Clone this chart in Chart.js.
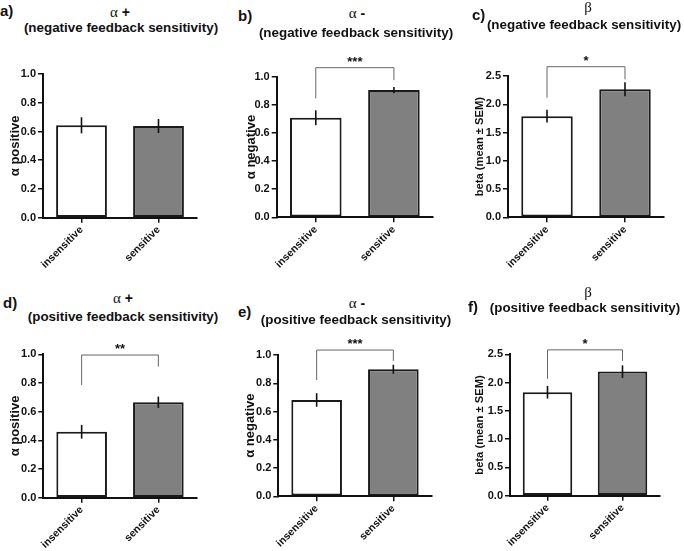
<!DOCTYPE html>
<html lang="en">
<head>
  <meta charset="UTF-8">
  <title>Learning rates and beta by feedback sensitivity</title>
  <script src="https://cdn.jsdelivr.net/npm/chart.js"></script>
  <style>
    body { margin: 0; background: #fff; font-family: "Liberation Sans", Arial, sans-serif; }
    #fig { position: relative; width: 684px; height: 551px; overflow: hidden; }
    canvas { position: absolute; z-index: 1; }
    .lbl { position: absolute; z-index: 2; font-weight: bold; white-space: nowrap; color: #111; line-height: 16px; }
    .letter { font-size: 15px; }
    .t1 { font-size: 14px; transform: translateX(-50%); }
    .t2 { font-size: 13.4px; transform: translateX(-50%); }
    .greek { font-family: "Liberation Serif", serif; font-weight: normal; font-size: 15px; }
  </style>
</head>
<body>
  <div id="fig">
    <!-- panel headings -->
    <div class="lbl letter" style="left:0px;top:3px">a)</div>
    <div class="lbl t1" style="left:120px;top:4px"><span class="greek">α</span> +</div>
    <div class="lbl t2" style="left:121px;top:20px">(negative feedback sensitivity)</div>

    <div class="lbl letter" style="left:238px;top:8px">b)</div>
    <div class="lbl t1" style="left:357px;top:5px"><span class="greek">α</span> -</div>
    <div class="lbl t2" style="left:356px;top:25px">(negative feedback sensitivity)</div>

    <div class="lbl letter" style="left:472px;top:7px">c)</div>
    <div class="lbl t1" style="left:588px;top:-1px"><span class="greek">β</span></div>
    <div class="lbl t2" style="left:584px;top:17px">(negative feedback sensitivity)</div>

    <div class="lbl letter" style="left:3px;top:295px">d)</div>
    <div class="lbl t1" style="left:123px;top:290px"><span class="greek">α</span> +</div>
    <div class="lbl t2" style="left:123px;top:309px">(positive feedback sensitivity)</div>

    <div class="lbl letter" style="left:238px;top:304px">e)</div>
    <div class="lbl t1" style="left:357px;top:295px"><span class="greek">α</span> -</div>
    <div class="lbl t2" style="left:356px;top:312px">(positive feedback sensitivity)</div>

    <div class="lbl letter" style="left:468px;top:299px">f)</div>
    <div class="lbl t1" style="left:588px;top:284px"><span class="greek">β</span></div>
    <div class="lbl t2" style="left:585px;top:300px">(positive feedback sensitivity)</div>
  </div>

  <script>
    // groups on the x axis
    const groups = ['insensitive', 'sensitive'];

    // a) alpha+ , negative feedback sensitivity
    const aMean = [0.643, 0.638];
    const aSem = [0.056, 0.049];
    // b) alpha- , negative feedback sensitivity
    const bMean = [0.708, 0.905];
    const bSem = [0.053, 0.022];
    const bBracket = [0.846, 1.064, 0.976]; // left leg end, top, right leg end
    // c) beta , negative feedback sensitivity
    const cMean = [1.79, 2.265];
    const cSem = [0.112, 0.125];
    const cBracket = [2.116, 2.665, 2.44];
    // d) alpha+ , positive feedback sensitivity
    const dMean = [0.46, 0.665];
    const dSem = [0.048, 0.04];
    const dBracket = [0.786, 0.995, 0.914];
    // e) alpha- , positive feedback sensitivity
    const eMean = [0.682, 0.899];
    const eSem = [0.048, 0.032];
    const eBracket = [0.823, 1.035, 0.958];
    // f) beta , positive feedback sensitivity
    const fMean = [1.829, 2.194];
    const fSem = [0.112, 0.111];
    const fBracket = [2.065, 2.578, 2.383];

    // y axis ranges
    const alphaMax = 1.0, alphaStep = 0.2;
    const betaMax = 2.5, betaStep = 0.5;

    const FONT = '"Liberation Sans", Arial, sans-serif';
    const INK = '#111';

    // x/top/w/h = canvas box, L/T/R/B = plot area, tx = y title centre
    const panels = [
      { mean: aMean, sem: aSem, bracket: null, stars: '', yTitle: 'α positive', tSize: 13, max: alphaMax, step: alphaStep,
        x: 0, top: 40, w: 225, h: 235, L: 43, T: 74, R: 197, B: 217.7, tx: 15 },
      { mean: bMean, sem: bSem, bracket: bBracket, stars: '***', yTitle: 'α negative', tSize: 13, max: alphaMax, step: alphaStep,
        x: 228, top: 40, w: 226, h: 235, L: 276.7, T: 76.7, R: 433, B: 217.3, tx: 251.7 },
      { mean: cMean, sem: cSem, bracket: cBracket, stars: '*', yTitle: 'beta (mean ± SEM)', tSize: 11.2, max: betaMax, step: betaStep,
        x: 458, top: 40, w: 226, h: 235, L: 508, T: 76, R: 664, B: 217.3, tx: 480 },
      { mean: dMean, sem: dSem, bracket: dBracket, stars: '**', yTitle: 'α positive', tSize: 13, max: alphaMax, step: alphaStep,
        x: 0, top: 325, w: 225, h: 226, L: 43.3, T: 354.3, R: 196.7, B: 497.7, tx: 15 },
      { mean: eMean, sem: eSem, bracket: eBracket, stars: '***', yTitle: 'α negative', tSize: 13, max: alphaMax, step: alphaStep,
        x: 228, top: 325, w: 226, h: 226, L: 278.3, T: 355, R: 431.7, B: 496.3, tx: 250 },
      { mean: fMean, sem: fSem, bracket: fBracket, stars: '*', yTitle: 'beta (mean ± SEM)', tSize: 11.2, max: betaMax, step: betaStep,
        x: 458, top: 325, w: 226, h: 226, L: 510, T: 354.3, R: 660, B: 495.7, tx: 480 }
    ];

    // error bars (SEM) drawn over the bars
    const errorBars = {
      id: 'errorBars',
      afterDatasetsDraw(chart, args, opts) {
        const { ctx, scales: { y } } = chart;
        const meta = chart.getDatasetMeta(0);
        ctx.save();
        ctx.strokeStyle = INK;
        ctx.lineWidth = 1.6;
        meta.data.forEach((bar, i) => {
          const m = opts.mean[i], s = opts.sem[i];
          ctx.beginPath();
          ctx.moveTo(bar.x, y.getPixelForValue(m + s));
          ctx.lineTo(bar.x, y.getPixelForValue(m - s));
          ctx.stroke();
        });
        ctx.restore();
      }
    };

    // significance bracket with stars
    const sigBracket = {
      id: 'sigBracket',
      afterDraw(chart, args, opts) {
        if (!opts.bracket) return;
        const { ctx, scales: { y } } = chart;
        const meta = chart.getDatasetMeta(0);
        const x0 = meta.data[0].x, x1 = meta.data[1].x;
        const yL = y.getPixelForValue(opts.bracket[0]);
        const yT = y.getPixelForValue(opts.bracket[1]);
        const yR = y.getPixelForValue(opts.bracket[2]);
        ctx.save();
        ctx.strokeStyle = '#666';
        ctx.lineWidth = 1;
        ctx.beginPath();
        ctx.moveTo(x0, yL);
        ctx.lineTo(x0, yT);
        ctx.lineTo(x1, yT);
        ctx.lineTo(x1, yR);
        ctx.stroke();
        ctx.fillStyle = INK;
        ctx.font = 'bold 13px ' + FONT;
        ctx.textAlign = 'center';
        ctx.textBaseline = 'alphabetic';
        ctx.fillText(opts.stars, (x0 + x1) / 2, yT - 2);
        ctx.restore();
      }
    };

    const fig = document.getElementById('fig');

    panels.forEach(p => {
      const canvas = document.createElement('canvas');
      canvas.width = p.w;
      canvas.height = p.h;
      canvas.style.left = p.x + 'px';
      canvas.style.top = p.top + 'px';
      fig.appendChild(canvas);

      const yW = p.L - p.x;
      const xH = p.top + p.h - p.B;
      const titlePad = p.tx - p.x - p.tSize * 1.2 / 2;

      new Chart(canvas, {
        type: 'bar',
        data: {
          labels: groups,
          datasets: [{
            data: p.mean,
            backgroundColor: ['#ffffff', '#808080'],
            borderColor: '#1a1a1a',
            borderWidth: 2,
            borderSkipped: false,
            barPercentage: 0.66,
            categoryPercentage: 1.0
          }]
        },
        options: {
          responsive: false,
          animation: false,
          layout: { padding: { left: 0, top: p.T - p.top, right: p.x + p.w - p.R, bottom: 0 } },
          plugins: {
            legend: { display: false },
            tooltip: { enabled: false },
            errorBars: { mean: p.mean, sem: p.sem },
            sigBracket: { bracket: p.bracket, stars: p.stars }
          },
          scales: {
            x: {
              offset: true,
              grid: { drawOnChartArea: false, offset: false, tickLength: 5, color: INK, lineWidth: 1.5 },
              border: { display: true, color: INK, width: 2 },
              ticks: { color: INK, font: { family: FONT, size: 10.5, weight: 'bold' }, minRotation: 45, maxRotation: 45, padding: 1 },
              afterFit: s => { s.height = xH; }
            },
            y: {
              min: 0,
              max: p.max,
              grid: { drawOnChartArea: false, tickLength: 5, color: INK, lineWidth: 1.5 },
              border: { display: true, color: INK, width: 2 },
              ticks: {
                stepSize: p.step,
                color: INK,
                padding: 2,
                font: { family: FONT, size: 11, weight: 'bold' },
                callback: v => v.toFixed(1)
              },
              title: {
                display: true,
                text: p.yTitle,
                color: INK,
                font: { family: FONT, size: p.tSize, weight: 'bold' },
                padding: { top: titlePad, bottom: 0 }
              },
              afterFit: s => { s.width = yW; }
            }
          }
        },
        plugins: [errorBars, sigBracket]
      });
    });
  </script>
</body>
</html>
